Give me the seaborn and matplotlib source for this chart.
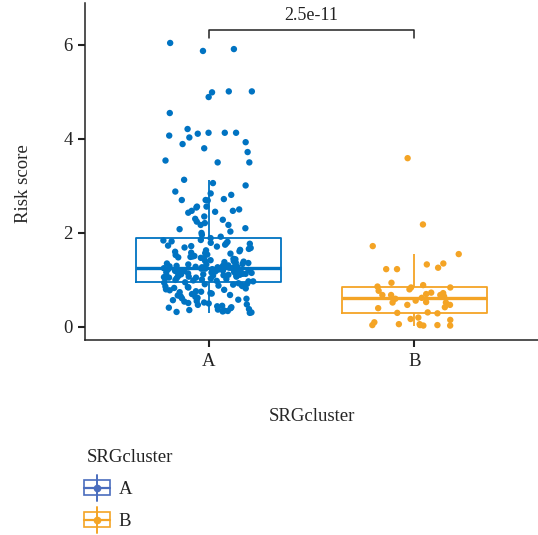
import numpy as np
import pandas as pd
import matplotlib
matplotlib.use("Agg")
import matplotlib.pyplot as plt
import seaborn as sns
from matplotlib.legend_handler import HandlerBase
from matplotlib.lines import Line2D
from matplotlib.patches import Rectangle

# Risk scores per SRG cluster
cluster_a = [
    6.04, 5.91, 5.87, 5.01, 5.01, 4.99, 4.89, 4.55, 4.21, 4.13, 4.13, 4.13,
    4.11, 4.07, 4.03, 3.93, 3.89, 3.80, 3.72, 3.54, 3.50, 3.50,
    3.13, 3.06, 3.01, 2.88, 2.84, 2.81, 2.72, 2.70, 2.70, 2.69, 2.56, 2.56,
    2.54, 2.50, 2.47, 2.47, 2.45, 2.43, 2.35, 2.30, 2.28, 2.24, 2.21, 2.17,
    2.17, 2.10, 2.08, 2.03, 2.00, 1.96, 1.92, 1.89,
    1.85, 1.84, 1.82, 1.81, 1.79, 1.78, 1.77, 1.75, 1.73, 1.72, 1.71, 1.69,
    1.68, 1.66, 1.64, 1.63, 1.61, 1.60, 1.58, 1.57, 1.56, 1.54, 1.53, 1.51,
    1.50, 1.49, 1.48, 1.47, 1.46, 1.45, 1.44, 1.42, 1.41, 1.40, 1.39, 1.38,
    1.37, 1.36, 1.35, 1.34, 1.33, 1.33, 1.32, 1.31, 1.30, 1.30, 1.29, 1.28,
    1.28, 1.27, 1.27, 1.26, 1.26,
    1.25, 1.25, 1.24, 1.24, 1.23, 1.23, 1.22, 1.22, 1.21, 1.21, 1.20, 1.20,
    1.19, 1.19, 1.18, 1.18, 1.17, 1.17, 1.16, 1.16, 1.15, 1.15, 1.14, 1.14,
    1.13, 1.13, 1.12, 1.12, 1.11, 1.11, 1.10, 1.10, 1.09, 1.09, 1.08, 1.08,
    1.07, 1.07, 1.06, 1.06, 1.05, 1.05, 1.04, 1.04, 1.03, 1.02, 1.01, 1.00,
    0.99, 0.98, 0.97, 0.97,
    0.95, 0.94, 0.93, 0.92, 0.91, 0.90, 0.89, 0.88, 0.87, 0.86, 0.85, 0.84,
    0.83, 0.82, 0.80, 0.79, 0.78, 0.76, 0.75, 0.74, 0.72, 0.71, 0.70, 0.68,
    0.67, 0.65, 0.64, 0.62, 0.61, 0.60, 0.58, 0.57, 0.55, 0.54, 0.52, 0.51,
    0.50, 0.48, 0.47, 0.45, 0.44, 0.42, 0.41, 0.40, 0.38, 0.37, 0.36, 0.35,
    0.34, 0.33, 0.32, 0.31, 0.30,
]
cluster_b = [
    3.59, 2.18, 1.72, 1.55, 1.35, 1.33, 1.26, 1.23, 1.23, 0.94, 0.89, 0.86,
    0.84, 0.84, 0.80, 0.77, 0.73, 0.72, 0.70, 0.68, 0.68, 0.68, 0.65, 0.62,
    0.60, 0.56, 0.53, 0.52, 0.52, 0.47, 0.47, 0.42, 0.40, 0.31, 0.30, 0.29,
    0.20, 0.17, 0.15, 0.10, 0.06, 0.06, 0.04, 0.04, 0.04, 0.03, 0.03,
]
groups = ["A", "B"]
colors = {"A": "#0073C2", "B": "#F4A425"}
legend_colors = {"A": "#4A6DBE", "B": "#F4A425"}
p_label = "2.5e-11"
y_ticks = [0, 2, 4, 6]

df = pd.DataFrame({
    "SRGcluster": ["A"] * len(cluster_a) + ["B"] * len(cluster_b),
    "Risk score": cluster_a + cluster_b,
})

sns.set_theme(style="white")
plt.rcParams["font.family"] = ["Liberation Serif", "DejaVu Serif"]
plt.rcParams["text.color"] = "#222222"

W, H = 538, 535
fig = plt.figure(figsize=(W / 100, H / 100), dpi=100)
ax = fig.add_axes([85 / W, (H - 340) / H, (W - 85) / W, (340 - 3) / H])

sns.boxplot(
    data=df, x="SRGcluster", y="Risk score", hue="SRGcluster", order=groups,
    palette=colors, fill=False, width=0.7, showfliers=False, showcaps=False,
    linewidth=1.3, medianprops={"linewidth": 2.4}, legend=False, ax=ax,
)
np.random.seed(7)
sns.stripplot(
    data=df, x="SRGcluster", y="Risk score", hue="SRGcluster", order=groups,
    palette=colors, jitter=0.22, size=4.6, linewidth=0, legend=False, ax=ax,
    zorder=3,
)

# significance bracket
ax.plot([0, 0, 1, 1], [6.15, 6.32, 6.32, 6.15], color="#222222", lw=1.1,
        clip_on=False)
ax.text(0.5, 6.45, p_label, ha="center", va="bottom", fontsize=13)

ax.set_xlim(-0.6, 1.6)
ax.set_ylim(-0.277, 6.89)
ax.set_yticks(y_ticks)
ax.set_yticklabels([str(t) for t in y_ticks])
for side in ["top", "right"]:
    ax.spines[side].set_visible(False)
for side in ["left", "bottom"]:
    ax.spines[side].set_color("#222222")
    ax.spines[side].set_linewidth(1.1)
ax.tick_params(axis="both", which="major", length=5, width=1.5,
               color="#222222", labelsize=13.5, labelcolor="#222222",
               left=True, bottom=True, pad=4)
ax.set_xlabel("SRGcluster", fontsize=13.5, labelpad=28)
ax.set_ylabel("Risk score", fontsize=13.5)
ax.yaxis.set_label_coords(-0.117, 0.465)


class BoxKey(HandlerBase):
    def create_artists(self, legend, orig_handle, xdescent, ydescent,
                       width, height, fontsize, trans):
        c = orig_handle.get_color()
        cx = width / 2 - xdescent
        cy = height / 2 - ydescent
        bw, bh = 19, 11
        rect = Rectangle((cx - bw / 2, cy - bh / 2), bw, bh, fill=False,
                         ec=c, lw=1.2, transform=trans)
        hl = Line2D([cx - bw / 2, cx + bw / 2], [cy, cy], color=c, lw=1.6,
                    transform=trans)
        vl = Line2D([cx, cx], [cy - bh / 2 - 4, cy + bh / 2 + 4], color=c,
                    lw=1.4, transform=trans)
        dot = Line2D([cx], [cy], marker="o", ms=4.5, color=c, lw=0,
                     transform=trans)
        return [rect, hl, vl, dot]


handles = [Line2D([], [], color=legend_colors[g]) for g in groups]
leg = fig.legend(
    handles, groups, title="SRGcluster", loc="upper left",
    bbox_to_anchor=(70 / W, 1 - 432 / H), frameon=False, fontsize=13.5,
    title_fontsize=13.5, handler_map={Line2D: BoxKey()}, handlelength=1.1,
    handleheight=1.3, labelspacing=0.62, handletextpad=0.6,
)
leg._legend_box.align = "left"

fig.savefig("out.png", dpi=100)
